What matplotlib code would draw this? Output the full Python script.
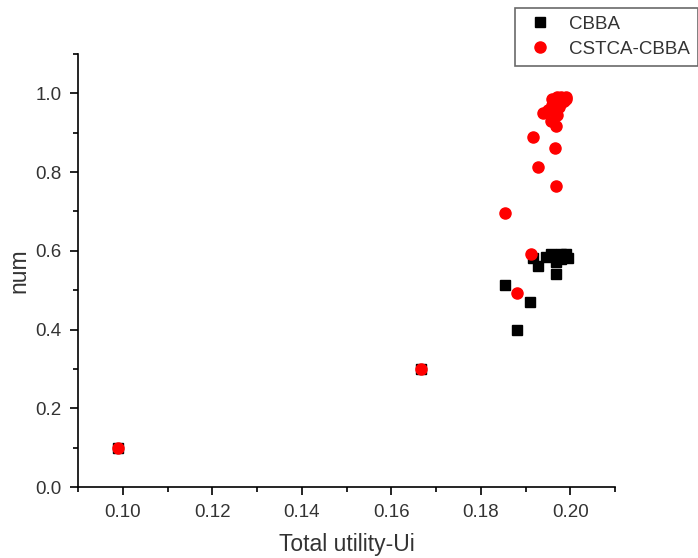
import matplotlib
matplotlib.use('Agg')
import matplotlib.pyplot as plt
from matplotlib.ticker import MultipleLocator, FormatStrFormatter

plt.rcParams['font.family'] = ['Liberation Sans', 'DejaVu Sans']

# CBBA points
cbba_x = [0.0990, 0.1667, 0.1855, 0.1881, 0.1911, 0.1916, 0.1928, 0.1946, 0.1958,
          0.1969, 0.1969, 0.1980, 0.1980, 0.1991, 0.1995, 0.1969]
cbba_y = [0.100, 0.300, 0.514, 0.398, 0.470, 0.581, 0.562, 0.584, 0.593,
          0.589, 0.572, 0.593, 0.578, 0.593, 0.583, 0.540]

# CSTCA-CBBA points
cstca_x = [0.0990, 0.1667, 0.1855, 0.1881, 0.1913, 0.1917, 0.1927, 0.1966, 0.1969,
           0.1969, 0.1939, 0.1950, 0.1960, 0.1965, 0.1960, 0.1970, 0.1980, 0.1990,
           0.1985, 0.1975, 0.1970, 0.1980, 0.1990, 0.1958]
cstca_y = [0.100, 0.300, 0.695, 0.493, 0.592, 0.889, 0.814, 0.861, 0.765,
           0.916, 0.950, 0.958, 0.970, 0.978, 0.985, 0.990, 0.990, 0.992,
           0.980, 0.965, 0.945, 0.975, 0.985, 0.930]

txt = '#333333'

fig = plt.figure(figsize=(6.98, 5.58), dpi=100)
ax = fig.add_axes([78/698, 1 - 487/558, (615 - 78)/698, (487 - 54)/558])

ax.plot(cbba_x, cbba_y, 's', color='black', markersize=7, label='CBBA', linestyle='none')
ax.plot(cstca_x, cstca_y, 'o', color='red', markersize=8, label='CSTCA-CBBA', linestyle='none')

ax.set_xlim(0.09, 0.21)
ax.set_ylim(0.0, 1.1)
ax.xaxis.set_major_locator(MultipleLocator(0.02))
ax.xaxis.set_minor_locator(MultipleLocator(0.01))
ax.yaxis.set_major_locator(MultipleLocator(0.2))
ax.yaxis.set_minor_locator(MultipleLocator(0.1))
ax.xaxis.set_major_formatter(FormatStrFormatter('%.2f'))
ax.yaxis.set_major_formatter(FormatStrFormatter('%.1f'))

for s in ['top', 'right']:
    ax.spines[s].set_visible(False)
for s in ['left', 'bottom']:
    ax.spines[s].set_linewidth(1.2)
ax.tick_params(which='major', direction='out', length=6, width=1.2, labelsize=13.5, labelcolor=txt, pad=6)
ax.tick_params(which='minor', direction='out', length=3.5, width=1.2)

ax.set_xlabel('Total utility-Ui', fontsize=16.5, color=txt, labelpad=9)
ax.set_ylabel('num', fontsize=16.5, color=txt, labelpad=3)

leg = fig.legend(loc='upper left', bbox_to_anchor=(515/698, 1 - 8/558), fontsize=13.5,
                 frameon=True, fancybox=False, borderaxespad=0, handletextpad=0.6,
                 handlelength=1.85, borderpad=0.42, labelspacing=0.42)
leg.get_frame().set_edgecolor('#444444')
leg.get_frame().set_linewidth(1.2)
for t in leg.get_texts():
    t.set_color(txt)

fig.savefig('out.png', dpi=100)
